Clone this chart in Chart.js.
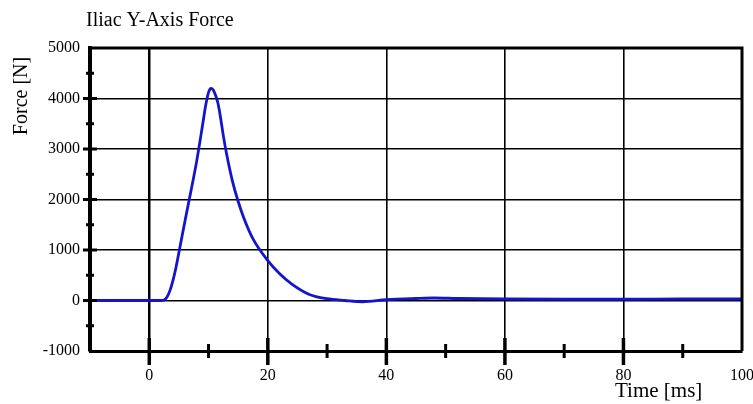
<!DOCTYPE html>
<html>
<head>
<meta charset="utf-8">
<script src="https://cdn.jsdelivr.net/npm/chart.js@4.4.1/dist/chart.umd.min.js"></script>
<style>
  html, body { margin: 0; padding: 0; background: #fff; }
  #wrap { width: 753px; height: 404px; position: relative; }
</style>
</head>
<body>
<div id="wrap"><canvas id="force-chart"></canvas></div>
<script>
const times = [-10, 0, 2, 2.5, 3, 3.5, 4, 4.5, 5, 6, 7, 8, 9, 9.5, 10, 10.4, 10.8, 11.2, 11.6, 12, 12.5, 13, 14, 15, 16, 17.5, 20, 22, 24, 27, 30, 33, 36, 40, 45, 48, 52, 60, 70, 80, 90, 100];
const forces = [0, 0, 0, 10, 70, 200, 400, 650, 950, 1560, 2150, 2760, 3480, 3850, 4120, 4200, 4170, 4060, 3900, 3640, 3260, 2930, 2380, 1960, 1620, 1220, 790, 530, 330, 120, 35, 0, -25, 15, 40, 50, 40, 30, 25, 25, 30, 30];
const xTicks = [0, 20, 40, 60, 80, 100];
const serif = "'Liberation Serif', 'Times New Roman', serif";

const points = times.map((t, i) => ({ x: t, y: forces[i] }));

// frame, tick marks crossing the axes, and free-placed titles
const framePlugin = {
  id: "frame",
  afterDatasetsDraw(chart) {
    const { ctx, chartArea: a, scales } = chart;
    ctx.save();
    ctx.strokeStyle = "#000";
    ctx.lineWidth = 3;
    ctx.beginPath();
    ctx.moveTo(a.left, a.top);
    ctx.lineTo(a.right, a.top);
    ctx.lineTo(a.right, a.bottom);
    ctx.stroke();

    // x tick marks
    for (let v = 0; v <= 90; v += 10) {
      const px = scales.x.getPixelForValue(v);
      const major = v % 20 === 0;
      ctx.lineWidth = major ? 3.5 : 3;
      ctx.beginPath();
      ctx.moveTo(px, a.bottom - (major ? 13 : 7));
      ctx.lineTo(px, a.bottom + (major ? 14 : 7));
      ctx.stroke();
    }
    // y tick marks
    for (let v = -500; v < 5000; v += 500) {
      const py = scales.y.getPixelForValue(v);
      const major = v % 1000 === 0;
      ctx.lineWidth = 3;
      ctx.beginPath();
      ctx.moveTo(a.left - (major ? 7 : 4), py);
      ctx.lineTo(a.left + (major ? 7 : 4), py);
      ctx.stroke();
    }

    ctx.fillStyle = "#000";
    ctx.font = "20px " + serif;
    ctx.textAlign = "left";
    ctx.textBaseline = "alphabetic";
    ctx.fillText("Iliac Y-Axis Force", 86, 26);

    ctx.font = "21px " + serif;
    ctx.fillText("Time [ms]", 615, 397);

    ctx.translate(27, 96);
    ctx.rotate(-Math.PI / 2);
    ctx.textAlign = "center";
    ctx.font = "20px " + serif;
    ctx.fillText("Force [N]", 0, 0);
    ctx.restore();
  },
};

new Chart(document.getElementById("force-chart"), {
  type: "line",
  data: {
    datasets: [
      {
        data: points,
        borderColor: "#1414cc",
        borderWidth: 2.8,
        pointRadius: 0,
        cubicInterpolationMode: "monotone",
        fill: false,
      },
    ],
  },
  options: {
    responsive: true,
    maintainAspectRatio: false,
    animation: false,
    layout: { padding: { left: 0, right: 11, top: 48, bottom: 0 } },
    plugins: {
      legend: { display: false },
      tooltip: { enabled: false },
    },
    scales: {
      x: {
        type: "linear",
        min: -10,
        max: 100,
        afterFit: (s) => {
          s.height = 53;
          s.paddingLeft = 0;
          s.paddingRight = 0;
        },
        afterBuildTicks: (s) => { s.ticks = [-10].concat(xTicks).map((v) => ({ value: v })); },
        ticks: {
          padding: 15,
          maxRotation: 0,
          color: "#000",
          font: { family: serif, size: 16 },
          callback: (v) => (v < 0 ? "" : v),
        },
        grid: {
          drawTicks: false,
          color: (c) => (c.tick && c.tick.value > -10 && c.tick.value < 100 ? "#000" : "transparent"),
          lineWidth: (c) => (c.tick && c.tick.value === 0 ? 2.5 : 1.6),
        },
        border: { color: "#000", width: 3 },
      },
      y: {
        min: -1000,
        max: 5000,
        afterFit: (s) => {
          s.width = 90;
          s.paddingTop = 0;
          s.paddingBottom = 0;
        },
        ticks: {
          stepSize: 1000,
          padding: 10,
          color: "#000",
          font: { family: serif, size: 16 },
          callback: (v) => v,
        },
        grid: {
          drawTicks: false,
          color: (c) => (c.tick && c.tick.value > -1000 && c.tick.value < 5000 ? "#000" : "transparent"),
          lineWidth: 1.6,
        },
        border: { color: "#000", width: 4 },
      },
    },
  },
  plugins: [framePlugin],
});
</script>
</body>
</html>
